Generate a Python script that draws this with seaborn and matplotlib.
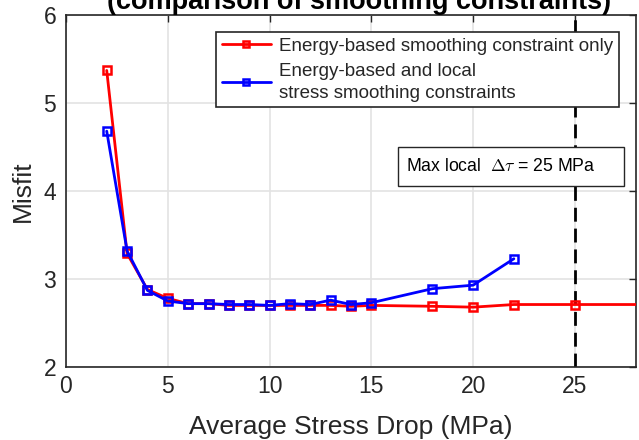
import matplotlib
matplotlib.use("Agg")
import matplotlib.pyplot as plt
from matplotlib.patches import Rectangle
import seaborn as sns
import pandas as pd

# Data
x_red = [2, 3, 4, 5, 6, 7, 8, 9, 10, 11, 12, 13, 14, 15, 18, 20, 22, 25, 30]
y_red = [5.37, 3.29, 2.88, 2.78, 2.72, 2.72, 2.70, 2.70, 2.70, 2.70, 2.70, 2.70, 2.69, 2.70, 2.69, 2.68, 2.71, 2.71, 2.71]
x_blue = [2, 3, 4, 5, 6, 7, 8, 9, 10, 11, 12, 13, 14, 15, 18, 20, 22]
y_blue = [4.68, 3.32, 2.87, 2.75, 2.72, 2.72, 2.71, 2.71, 2.70, 2.72, 2.71, 2.76, 2.71, 2.73, 2.89, 2.93, 3.23]
label_red = "Energy-based smoothing constraint only"
label_blue = "Energy-based and local\nstress smoothing constraints"
x_ticks = [0, 5, 10, 15, 20, 25]
y_ticks = [2, 3, 4, 5, 6]
max_local = 25

sns.set_theme(style="white")
plt.rcParams['font.family'] = ['Liberation Sans', 'DejaVu Sans']
plt.rcParams['mathtext.fontset'] = 'cm'

fig = plt.figure(figsize=(6.39, 4.4), dpi=100)
ax = fig.add_axes([66/639, 73/440, 570/639, 352/440])

df_red = pd.DataFrame({"x": x_red, "y": y_red})
df_blue = pd.DataFrame({"x": x_blue, "y": y_blue})

ax.axvline(max_local, color="black", linestyle=(0, (5, 2.5)), linewidth=2, zorder=1)

sns.lineplot(data=df_red, x="x", y="y", ax=ax, color="#ff0000", linewidth=2,
             marker="s", markersize=6, markerfacecolor="none", markeredgecolor="#ff0000",
             markeredgewidth=1.8, label=label_red, zorder=3, sort=False)
sns.lineplot(data=df_blue, x="x", y="y", ax=ax, color="#0000ff", linewidth=2,
             marker="s", markersize=6, markerfacecolor="none", markeredgecolor="#0000ff",
             markeredgewidth=1.8, label=label_blue, zorder=4, sort=False)

ax.set_xlim(0, 28)
ax.set_ylim(2, 6)
ax.set_xticks(x_ticks)
ax.set_yticks(y_ticks)
ax.grid(True, color="#e3e3e3", linewidth=1.2)
ax.set_axisbelow(True)
ax.tick_params(direction="in", length=5, width=1, top=True, right=True,
               labelsize=16.5, colors="#262626")
ax.tick_params(axis="x", pad=6)
ax.tick_params(axis="y", pad=7)
for s in ax.spines.values():
    s.set_color("#262626")
    s.set_linewidth(1.2)
    s.set_visible(True)

ax.set_xlabel("Average Stress Drop (MPa)", fontsize=19, color="#262626", labelpad=12)
ax.set_ylabel("Misfit", fontsize=19, color="#262626", labelpad=6)

leg = ax.legend(loc="upper right", bbox_to_anchor=(553/570, 1 - 17/352), fontsize=13.5,
                frameon=True, fancybox=False, edgecolor="#262626", framealpha=1,
                handlelength=2.6, borderpad=0.3, labelspacing=0.45, handletextpad=0.45,
                borderaxespad=0)
leg.get_frame().set_linewidth(1.2)
leg.set_zorder(10)
for t in leg.get_texts():
    t.set_linespacing(1.35)
for h in leg.legend_handles:
    h.set_markersize(4)

ax.add_patch(Rectangle((332/570, 181/352), 226/570, 39/352, transform=ax.transAxes,
                       facecolor="white", edgecolor="#262626", linewidth=1, zorder=5))
ax.text(340/570, 200.5/352, r"Max local  $\Delta\tau$ = 25 MPa", transform=ax.transAxes,
        fontsize=12.7, va="center", ha="left", zorder=6, color="black")

fig.text(359/639, 1 - 9/440, "(comparison of smoothing constraints)", ha="center",
         va="baseline", fontsize=19.5, fontweight="bold", color="black")

fig.savefig("out.png", dpi=100)
